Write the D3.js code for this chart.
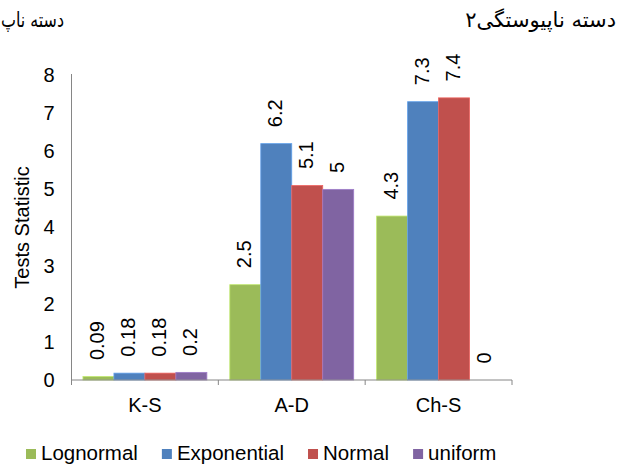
<!DOCTYPE html>
<html><head><meta charset="utf-8">
<script src="https://cdn.jsdelivr.net/npm/d3@7"></script>
<style>
html,body{margin:0;padding:0;background:#fff;overflow:hidden}
svg{display:block}
text{font-family:"Liberation Sans",Arial,sans-serif;fill:#000}
</style></head>
<body>
<svg id="chart" width="617" height="468"></svg>
<script>
const categories = ["K-S", "A-D", "Ch-S"];
const seriesNames = ["Lognormal", "Exponential", "Normal", "uniform"];
const seriesColors = ["#9BBB59", "#4F81BD", "#C0504D", "#8064A2"];
const lognormal = [0.09, 2.5, 4.3];
const exponential = [0.18, 6.2, 7.3];
const normal = [0.18, 5.1, 7.4];
const uniform = [0.2, 5, 0];
const yTicks = [0, 1, 2, 3, 4, 5, 6, 7, 8];
const headerTexts = ["دسته ناپ", "دسته ناپیوستگی۲"];

const seriesValues = [lognormal, exponential, normal, uniform];
const svg = d3.select("#chart");
const fs = 20;

const x0 = d3.scaleBand().domain(categories).range([71.5, 512]).paddingInner(0).paddingOuter(0);
const x1 = d3.scaleBand().domain(seriesNames).range([0, x0.bandwidth()]).paddingInner(0).paddingOuter(0.37);
const y = d3.scaleLinear().domain([0, 8]).range([380, 75]);

// header texts (RTL)
const h1 = svg.append("text").attr("x", 64).attr("y", 27).attr("text-anchor", "start").attr("direction", "rtl")
  .style("font-family", "'DejaVu Sans'").style("font-size", "21px").text(headerTexts[0]);
const w1 = h1.node().getComputedTextLength();
if (w1 > 63) h1.attr("textLength", 63).attr("lengthAdjust", "spacingAndGlyphs");
svg.append("text").attr("x", 616).attr("y", 27).attr("text-anchor", "start").attr("direction", "rtl")
  .style("font-family", "'DejaVu Sans'").style("font-size", "21px").text(headerTexts[1]);

// bars
const groups = svg.append("g").selectAll("g").data(categories).join("g")
  .attr("transform", d => `translate(${x0(d)},0)`);
groups.selectAll("rect").data((c, ci) => seriesNames.map((s, si) => ({s, si, v: seriesValues[si][ci]})))
  .join("rect")
  .attr("x", d => x1(d.s)).attr("width", x1.bandwidth())
  .attr("y", d => y(d.v)).attr("height", d => y(0) - y(d.v))
  .attr("fill", d => seriesColors[d.si])
  .attr("stroke", d => d3.color(seriesColors[d.si]).brighter(0.6))
  .attr("stroke-width", d => d.v > 0 ? 0.8 : 0);

// data labels
groups.selectAll("text.lbl").data((c, ci) => seriesNames.map((s, si) => ({s, si, v: seriesValues[si][ci]})))
  .join("text").attr("class", "lbl")
  .attr("transform", d => `translate(${x1(d.s) + x1.bandwidth() / 2 - 1},${y(d.v) - 16.5}) rotate(-90)`)
  .attr("dominant-baseline", "central")
  .style("font-size", fs + "px")
  .text(d => String(d.v));

// y axis
const yAxis = d3.axisLeft(y).tickValues(yTicks).tickSize(0).tickPadding(17).tickFormat(d3.format("d"));
const gy = svg.append("g").attr("transform", "translate(71.5,0)").call(yAxis);
gy.select(".domain").attr("stroke", "#868686").attr("d", `M0,${y(8) - 1}V${y(0)}`);
gy.selectAll("text").style("font-size", fs + "px").style("font-family", "'Liberation Sans',Arial,sans-serif").attr("fill", "#000");

// x axis
const xAxis = d3.axisBottom(x0).tickSize(0).tickPadding(18);
const gx = svg.append("g").attr("transform", `translate(0,${y(0)})`).call(xAxis);
gx.select(".domain").attr("stroke", "#868686").attr("d", `M71.5,0H512`);
gx.selectAll("text").style("font-size", fs + "px").style("font-family", "'Liberation Sans',Arial,sans-serif").attr("fill", "#000");
const boundaries = categories.map(c => x0(c)).concat([x0.range()[1]]);
gx.selectAll("line.bd").data(boundaries).join("line").attr("class", "bd")
  .attr("x1", d => d).attr("x2", d => d).attr("y1", 0).attr("y2", 5).attr("stroke", "#868686");

// y title
svg.append("text").attr("transform", `translate(22,${(y(0) + y(8)) / 2}) rotate(-90)`)
  .attr("text-anchor", "middle").attr("dominant-baseline", "central")
  .style("font-size", fs + "px").text("Tests Statistic");

// legend
const lg = svg.append("g");
let lx = 26;
seriesNames.forEach((s, i) => {
  lg.append("rect").attr("x", lx).attr("y", 449).attr("width", 10).attr("height", 10).attr("fill", seriesColors[i]);
  const t = lg.append("text").attr("x", lx + 15).attr("y", 460).style("font-size", "20.5px").text(s);
  lx += 15 + t.node().getComputedTextLength() + 24;
});
</script>
</body></html>
